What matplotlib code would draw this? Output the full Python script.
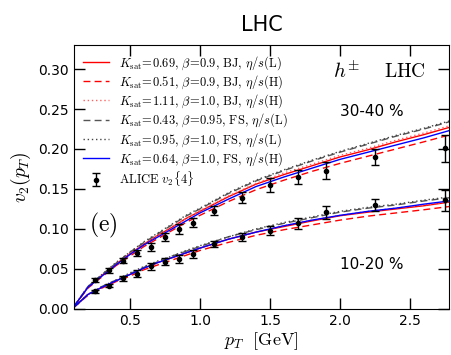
import numpy as np
import matplotlib
matplotlib.use("Agg")
import matplotlib.pyplot as plt

plt.rcParams['mathtext.fontset'] = 'cm'

# ALICE v2{4} data
pt_data = [0.25, 0.35, 0.45, 0.55, 0.65, 0.75, 0.85, 0.95, 1.1, 1.3, 1.5, 1.7, 1.9, 2.25, 2.75]
v2_3040 = [0.036, 0.048, 0.060, 0.070, 0.078, 0.090, 0.100, 0.108, 0.123, 0.139, 0.155, 0.165, 0.173, 0.190, 0.201]
err_3040 = [0.003, 0.003, 0.003, 0.004, 0.005, 0.005, 0.006, 0.006, 0.006, 0.007, 0.009, 0.009, 0.011, 0.010, 0.017]
v2_1020 = [0.022, 0.029, 0.038, 0.044, 0.053, 0.059, 0.062, 0.069, 0.081, 0.090, 0.098, 0.107, 0.121, 0.130, 0.136]
err_1020 = [0.002, 0.002, 0.003, 0.004, 0.004, 0.004, 0.005, 0.005, 0.004, 0.005, 0.006, 0.007, 0.008, 0.007, 0.013]

# model curves
pt = [0.1, 0.2, 0.3, 0.4, 0.5, 0.6, 0.7, 0.8, 0.9, 1.0, 1.2, 1.4, 1.6, 1.8, 2.0, 2.2, 2.4, 2.6, 2.78]

c3040_bj_l = [0.003, 0.027, 0.042, 0.056, 0.069, 0.081, 0.092, 0.102, 0.113, 0.122, 0.140, 0.156, 0.168, 0.179, 0.190, 0.199, 0.209, 0.218, 0.227]
c3040_bj_h = [0.003, 0.026, 0.040, 0.054, 0.066, 0.078, 0.088, 0.098, 0.108, 0.117, 0.134, 0.149, 0.161, 0.172, 0.182, 0.191, 0.200, 0.209, 0.2175]
c3040_bj_h2 = [0.003, 0.027, 0.042, 0.056, 0.069, 0.081, 0.092, 0.103, 0.113, 0.123, 0.141, 0.157, 0.170, 0.181, 0.192, 0.201, 0.211, 0.220, 0.229]
c3040_fs_l = [0.003, 0.028, 0.043, 0.057, 0.071, 0.083, 0.094, 0.105, 0.116, 0.125, 0.144, 0.160, 0.173, 0.185, 0.196, 0.206, 0.216, 0.225, 0.234]
c3040_fs_l2 = [0.003, 0.028, 0.043, 0.058, 0.071, 0.084, 0.095, 0.106, 0.117, 0.126, 0.145, 0.161, 0.174, 0.186, 0.197, 0.207, 0.217, 0.226, 0.235]
c3040_fs_h = [0.003, 0.027, 0.041, 0.055, 0.068, 0.080, 0.090, 0.100, 0.110, 0.120, 0.137, 0.153, 0.165, 0.176, 0.187, 0.196, 0.205, 0.214, 0.223]

c1020_bj_l = [0.002, 0.018, 0.027, 0.035, 0.043, 0.051, 0.058, 0.064, 0.070, 0.076, 0.087, 0.096, 0.103, 0.110, 0.1165, 0.121, 0.125, 0.129, 0.1335]
c1020_bj_h = [0.002, 0.017, 0.026, 0.034, 0.041, 0.049, 0.055, 0.061, 0.067, 0.073, 0.083, 0.092, 0.099, 0.105, 0.111, 0.116, 0.120, 0.124, 0.128]
c1020_bj_h2 = [0.002, 0.018, 0.027, 0.035, 0.043, 0.051, 0.058, 0.064, 0.070, 0.076, 0.087, 0.096, 0.104, 0.111, 0.117, 0.122, 0.126, 0.130, 0.134]
c1020_fs_l = [0.002, 0.018, 0.028, 0.036, 0.044, 0.052, 0.059, 0.066, 0.072, 0.078, 0.090, 0.099, 0.107, 0.114, 0.121, 0.126, 0.130, 0.135, 0.139]
c1020_fs_l2 = [0.002, 0.018, 0.028, 0.036, 0.045, 0.053, 0.060, 0.066, 0.073, 0.079, 0.090, 0.100, 0.108, 0.115, 0.122, 0.127, 0.131, 0.136, 0.140]
c1020_fs_h = [0.002, 0.018, 0.027, 0.035, 0.043, 0.051, 0.058, 0.064, 0.070, 0.076, 0.087, 0.096, 0.104, 0.111, 0.117, 0.122, 0.126, 0.131, 0.135]

labels = [r"$K_{\rm sat}\!=\!0.69,\,\beta\!=\!0.9,\,{\rm BJ},\,\eta/s{\rm (L)}$",
          r"$K_{\rm sat}\!=\!0.51,\,\beta\!=\!0.9,\,{\rm BJ},\,\eta/s{\rm (H)}$",
          r"$K_{\rm sat}\!=\!1.11,\,\beta\!=\!1.0,\,{\rm BJ},\,\eta/s{\rm (H)}$",
          r"$K_{\rm sat}\!=\!0.43,\,\beta\!=\!0.95,\,{\rm FS},\,\eta/s{\rm (L)}$",
          r"$K_{\rm sat}\!=\!0.95,\,\beta\!=\!1.0,\,{\rm FS},\,\eta/s{\rm (L)}$",
          r"$K_{\rm sat}\!=\!0.64,\,\beta\!=\!1.0,\,{\rm FS},\,\eta/s{\rm (H)}$"]

styles = [dict(color='red', ls='-'),
          dict(color='red', ls=(0, (5, 3))),
          dict(color='#ff6060', ls=(0, (1, 2))),
          dict(color='#555555', ls=(0, (5, 3))),
          dict(color='#444444', ls=(0, (1, 2))),
          dict(color='blue', ls='-')]

fig = plt.figure(figsize=(4.51, 3.55), dpi=100)
ax = fig.add_axes([0.164, 0.13, 0.832, 0.743])

curves_up = [c3040_bj_l, c3040_bj_h, c3040_bj_h2, c3040_fs_l, c3040_fs_l2, c3040_fs_h]
curves_lo = [c1020_bj_l, c1020_bj_h, c1020_bj_h2, c1020_fs_l, c1020_fs_l2, c1020_fs_h]
for i in range(6):
    ax.plot(pt, curves_up[i], lw=1, label=labels[i], **styles[i])
    ax.plot(pt, curves_lo[i], lw=1, **styles[i])

ax.errorbar(pt_data, v2_3040, yerr=err_3040, fmt='o', color='k', ms=3, capsize=3,
            elinewidth=1, label=r"${\rm ALICE}\ v_2\{4\}$")
ax.errorbar(pt_data, v2_1020, yerr=err_1020, fmt='o', color='k', ms=3, capsize=3, elinewidth=1)

ax.set_xlim(0.1, 2.78)
ax.set_ylim(0, 0.33)
ax.set_xticks([0.5, 1.0, 1.5, 2.0, 2.5])
ax.set_yticks([0.0, 0.05, 0.10, 0.15, 0.20, 0.25, 0.30])
ax.set_yticklabels(['0.00', '0.05', '0.10', '0.15', '0.20', '0.25', '0.30'])
ax.tick_params(direction='in', length=8, width=1, top=True, right=True, labelsize=10)
ax.set_xlabel(r"$p_T\ \ [{\rm GeV}]$", fontsize=13, labelpad=2)
ax.set_ylabel(r"$v_2(p_T)$", fontsize=14, labelpad=4)
ax.set_title("LHC", fontsize=15, pad=10)

ax.text(0.69, 0.90, r"$h^{\pm}$", transform=ax.transAxes, fontsize=15, va='center')
ax.text(0.825, 0.90, r"${\rm LHC}$", transform=ax.transAxes, fontsize=14, va='center')
ax.text(0.71, 0.75, "30-40 %", transform=ax.transAxes, fontsize=11, va='center')
ax.text(0.71, 0.167, "10-20 %", transform=ax.transAxes, fontsize=11, va='center')
ax.text(0.04, 0.318, r"${\rm (e)}$", transform=ax.transAxes, fontsize=17, va='center')

ax.legend(loc='upper left', frameon=False, fontsize=9, handlelength=2.1, labelspacing=0.12,
          borderaxespad=0.3, handletextpad=0.8, bbox_to_anchor=(0.0, 1.0))

fig.savefig("out.png", dpi=100)
